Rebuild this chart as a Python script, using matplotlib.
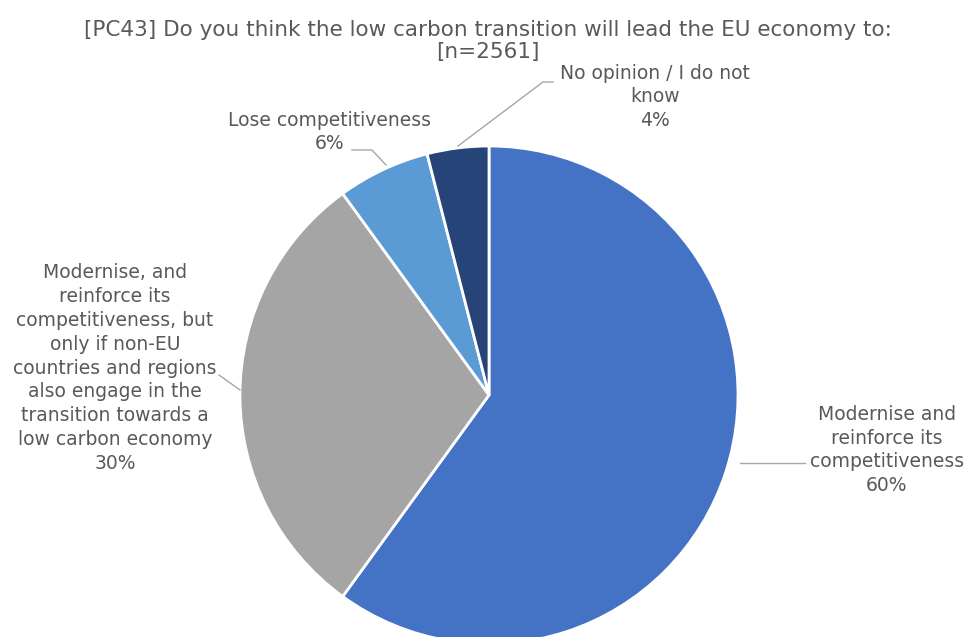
import matplotlib.pyplot as plt

labels = ["Modernise and\nreinforce its\ncompetitiveness",
          "Modernise, and\nreinforce its\ncompetitiveness, but\nonly if non-EU\ncountries and regions\nalso engage in the\ntransition towards a\nlow carbon economy",
          "Lose competitiveness",
          "No opinion / I do not\nknow"]
shares = [60, 30, 6, 4]
colors = ["#4472C4", "#A5A5A5", "#5B9BD5", "#264478"]
title = "[PC43] Do you think the low carbon transition will lead the EU economy to:\n[n=2561]"

W, H = 969, 637
txt = "#595959"
plt.rcParams['font.family'] = ['DejaVu Sans']

fig = plt.figure(figsize=(W / 100, H / 100), dpi=100)
ax = fig.add_axes([0, 0, 1, 1])


def up(y):
    # picture measured from the top, axes from the bottom
    return H - y


ax.pie(shares, colors=colors, startangle=90, counterclock=False,
       center=(489, up(395)), radius=249, frame=True,
       wedgeprops=dict(edgecolor='white', linewidth=2))
ax.set_xlim(0, W)
ax.set_ylim(0, H)
ax.set_aspect('equal')
ax.axis('off')

fig.text(488 / W, 1 - 41 / H, title, ha='center', va='center', fontsize=15.5,
         color=txt, linespacing=1.1)

# label anchors (centre of text block) and leader lines
spots = [(887, 450), (115, 368), (330, 132), (655, 97)]
leaders = [[(740, 463), (805, 463)],
           [(240, 390), (219, 375)],
           [(386, 165), (372, 150), (352, 150)],
           [(458, 146), (543, 82), (553, 82)]]
for lab, s, (x, y), pts in zip(labels, shares, spots, leaders):
    ax.text(x, up(y), f"{lab}\n{s}%", ha='center', va='center', fontsize=13.5,
            color=txt, linespacing=1.32)
    ax.plot([p[0] for p in pts], [up(p[1]) for p in pts], color='#A6A6A6', lw=1)

fig.savefig("out.png", dpi=100)
